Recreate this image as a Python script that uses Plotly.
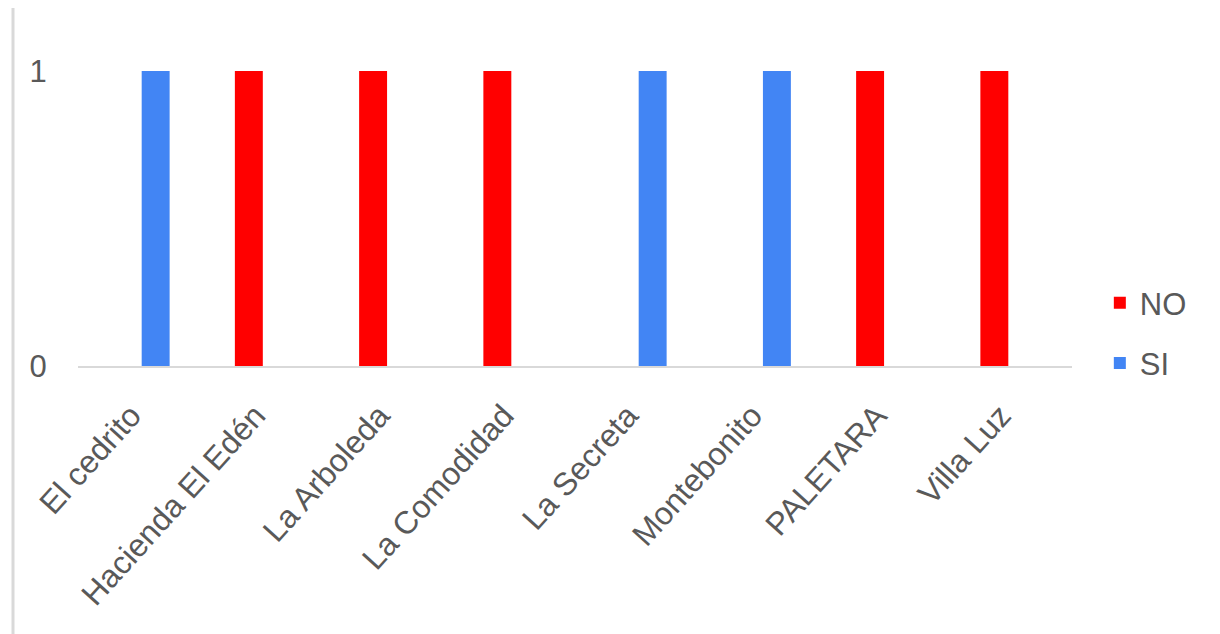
import plotly.graph_objects as go

categories = ["El cedrito", "Hacienda El Edén", "La Arboleda", "La Comodidad",
              "La Secreta", "Montebonito", "PALETARA", "Villa Luz"]
no_values = [0, 1, 1, 1, 0, 0, 1, 1]
si_values = [1, 0, 0, 0, 1, 1, 0, 0]
y_ticks = [0, 1]

FONT = "Liberation Sans, Arial, sans-serif"
GRAY = "#595959"

fig = go.Figure()
fig.add_trace(go.Bar(name="NO", x=categories, y=no_values, legendgroup="no",
                     marker=dict(color="#FF0000", line=dict(width=0))))
fig.add_trace(go.Bar(name="SI", x=categories, y=si_values, legendgroup="si",
                     marker=dict(color="#4285F4", line=dict(width=0))))

fig.update_layout(
    width=1220, height=634,
    margin=dict(l=70, r=156, t=63, b=276, pad=0),
    paper_bgcolor="white", plot_bgcolor="white",
    barmode="group", bargap=0.5, bargroupgap=0.1,
    font=dict(family=FONT, size=31, color=GRAY),
    showlegend=True,
    legend=dict(x=1.028, xanchor="left", y=0.305, yanchor="top",
                tracegroupgap=17, font=dict(size=31, color=GRAY),
                itemwidth=30, bgcolor="rgba(0,0,0,0)"),
    xaxis=dict(showline=True, linecolor="#d9d9d9", linewidth=2,
               tickangle=-48, ticks="outside", ticklen=16, tickcolor="rgba(0,0,0,0)",
               ticklabelshift=-9,
               showgrid=False, zeroline=False,
               tickfont=dict(size=32, color=GRAY, family=FONT)),
    yaxis=dict(range=[0, 1], tickvals=y_ticks, ticktext=[str(v) for v in y_ticks],
               showline=False, showgrid=False, zeroline=False,
               ticks="outside", ticklen=24, tickcolor="rgba(0,0,0,0)",
               tickfont=dict(size=31, color=GRAY, family=FONT)),
    shapes=[dict(type="line", xref="paper", yref="paper",
                 x0=-0.0654, x1=-0.0654, y0=-0.95, y1=1.25,
                 line=dict(color="#d9d9d9", width=3))],
)

fig.write_html("out.html")
